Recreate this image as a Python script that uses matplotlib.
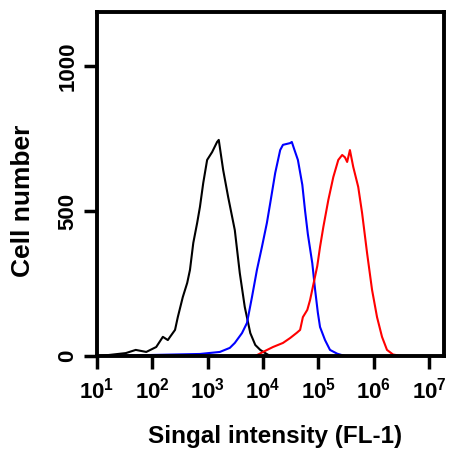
import numpy as np
import matplotlib
matplotlib.use("Agg")
import matplotlib.pyplot as plt

plt.rcParams['font.family'] = ['Liberation Sans', 'DejaVu Sans']
plt.rcParams['font.weight'] = 'bold'
plt.rcParams['mathtext.fontset'] = 'custom'
plt.rcParams['mathtext.bf'] = 'Liberation Sans:bold'
plt.rcParams['mathtext.rm'] = 'Liberation Sans:bold'
plt.rcParams['mathtext.default'] = 'bf'

# ---- data (log10 of signal intensity, cell counts) ----
black_log = [1.05, 1.52, 1.70, 1.89, 2.07, 2.19, 2.28, 2.32, 2.41, 2.46, 2.55, 2.63,
             2.68, 2.74, 2.81, 2.86, 2.92, 2.99, 3.08, 3.17, 3.20, 3.28, 3.37, 3.49,
             3.58, 3.67, 3.77, 3.86, 3.95, 4.04, 4.13, 5.08]
black_cnt = [0, 10, 21, 14, 31, 66, 55, 66, 90, 134, 203, 252,
             297, 390, 459, 514, 597, 676, 703, 738, 745, 641, 548, 434,
             286, 169, 79, 38, 21, 10, 0, 0]

blue_log = [1.10, 2.86, 3.22, 3.40, 3.49, 3.62, 3.71, 3.80, 3.89, 3.98, 4.07, 4.13,
            4.22, 4.31, 4.36, 4.49, 4.52, 4.56, 4.63, 4.71, 4.76, 4.81, 4.89, 4.94,
            4.99, 5.03, 5.12, 5.21, 5.34, 5.48, 7.25]
blue_cnt = [0, 7, 14, 28, 45, 79, 114, 203, 297, 376, 459, 527,
            631, 710, 728, 734, 738, 715, 676, 590, 500, 420, 320, 230,
            150, 100, 55, 21, 8, 0, 0]

red_log = [1.05, 3.86, 4.00, 4.18, 4.36, 4.49, 4.61, 4.67, 4.72, 4.80, 4.85, 4.90,
           4.98, 5.03, 5.09, 5.18, 5.27, 5.36, 5.43, 5.48, 5.52, 5.57, 5.63, 5.72,
           5.79, 5.88, 5.97, 6.06, 6.15, 6.24, 6.35, 6.51, 6.60]
red_cnt = [0, 0, 14, 31, 45, 62, 80, 90, 134, 159, 193, 238,
           310, 376, 445, 538, 617, 676, 693, 685, 669, 710, 652, 583,
           493, 355, 228, 134, 66, 21, 5, 0, 0]

xticks = [1e1, 1e2, 1e3, 1e4, 1e5, 1e6, 1e7]
xtick_labels = [r'$10^{1}$', r'$10^{2}$', r'$10^{3}$', r'$10^{4}$',
                r'$10^{5}$', r'$10^{6}$', r'$10^{7}$']
yticks = [0, 500, 1000]
ytick_labels = ['0', '500', '1000']

fig = plt.figure(figsize=(4.56, 4.51), dpi=100)
ax = fig.add_axes([97/456, 1 - 356/451, (444 - 97)/456, (356 - 12)/451])

for lg, cnt, col in [(black_log, black_cnt, 'black'),
                     (blue_log, blue_cnt, '#0000ff'),
                     (red_log, red_cnt, '#ff0000')]:
    ax.plot(10 ** np.array(lg), cnt, color=col, lw=1.5, zorder=2)

ax.set_xscale('log')
ax.set_xlim(1e1, 10 ** 7.27)
ax.set_ylim(0, 1186)
ax.set_xticks(xticks)
ax.set_xticklabels(xtick_labels)
ax.minorticks_off()
ax.set_yticks(yticks)
ax.set_yticklabels(ytick_labels, rotation=90, va='center')

for s in ax.spines.values():
    s.set_linewidth(2.8)
    s.set_zorder(3)

ax.tick_params(axis='both', which='major', direction='out', length=9.5, width=2.5,
               labelsize=16)
ax.tick_params(axis='x', pad=6)
ax.tick_params(axis='y', pad=4)

fig.text(275/456, 1 - 437/451, 'Singal intensity (FL-1)', ha='center', va='center',
         fontsize=17.5, fontweight='bold')
fig.text(23/456, 1 - 201/451, 'Cell number', ha='center', va='center',
         rotation=90, fontsize=19, fontweight='bold')

fig.savefig('out.png', dpi=100)
